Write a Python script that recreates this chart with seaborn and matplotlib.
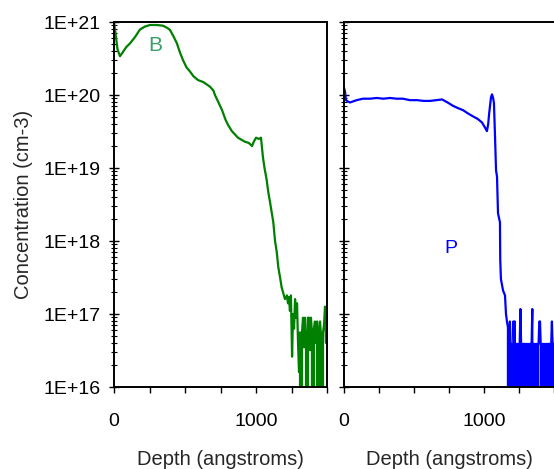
import pandas as pd
import seaborn as sns
import matplotlib.pyplot as plt
from matplotlib.ticker import LogLocator, NullFormatter

# boron profile (left panel)
b_depth = [0, 10, 25, 42, 60, 85, 113, 150, 183, 220, 254, 300, 345, 375, 394,
           420, 443, 465, 486, 510, 535, 560, 592, 630, 676, 700, 711, 740, 761,
           785, 803, 830, 873, 920, 950, 972, 985, 1000, 1020, 1035, 1049, 1060,
           1075, 1087, 1099, 1110, 1122, 1134, 1146, 1157, 1169, 1181,
           1190, 1204, 1218, 1225, 1232, 1239, 1246, 1254, 1261, 1268, 1275,
           1282, 1289, 1296, 1303, 1310, 1317, 1324, 1331, 1338, 1345, 1352,
           1359, 1366, 1373, 1380, 1387, 1394, 1401, 1408, 1415, 1423, 1430,
           1437, 1444, 1451, 1458, 1465, 1472, 1479, 1486, 1493, 1500]
b_conc = [1.0e21, 7.1e20, 4.2e20, 3.4e20, 3.8e20, 4.5e20, 5.1e20, 6.3e20, 7.9e20,
          8.7e20, 9.1e20, 9.1e20, 8.9e20, 8.3e20, 7.8e20, 6.3e20, 5.1e20, 3.8e20,
          3.0e20, 2.4e20, 2.1e20, 1.8e20, 1.6e20, 1.5e20, 1.3e20, 1.15e20, 1.0e20,
          7.6e19, 6.2e19, 4.6e19, 3.9e19, 3.2e19, 2.6e19, 2.3e19, 2.2e19, 2.0e19,
          2.3e19, 2.6e19, 2.5e19, 2.6e19, 1.4e19, 1.0e19,
          6.9e18, 4.6e18, 3.4e18, 2.5e18, 1.8e18, 1.0e18, 7.1e17, 4.4e17, 3.2e17,
          2.3e17,
          2.0e17, 1.6e17, 1.8e17, 1.4e17, 1.7e17, 1.1e17, 1.8e17, 2.6e16, 1.0e17,
          6.3e16, 1.6e17, 8.9e16, 1.4e17, 4.0e16, 1.6e16, 5.6e16, 0, 5.6e16,
          8.9e16, 3.5e16, 8.9e16, 5.0e16, 0, 8.9e16, 8.9e16, 3.2e16, 8.9e16,
          5.6e16, 0, 6.3e16, 7.9e16, 4.0e16, 7.9e16, 0, 6.3e16, 7.9e16, 5.0e16,
          0, 5.6e16, 7.1e16, 1.26e17, 4.0e16, 7.9e16]

# phosphorus profile (right panel)
p_depth = [0, 7, 14, 30, 43, 90, 136, 185, 235, 280, 329, 375, 421, 470, 521,
           570, 614, 660, 700, 740, 779, 815, 850, 885, 921, 955, 986, 1010,
           1021, 1030, 1036, 1043, 1050, 1057, 1064, 1071, 1079, 1086, 1093,
           1100, 1114, 1116, 1121, 1136, 1150, 1157, 1164, 1171,
           1180, 1185, 1190, 1195, 1200, 1205, 1210, 1215, 1220, 1225, 1230,
           1235, 1240, 1245, 1250, 1255, 1260, 1265, 1270, 1275, 1280, 1285,
           1290, 1295, 1300, 1305, 1310, 1315, 1320, 1325, 1330, 1335, 1340,
           1345, 1350, 1355, 1360, 1365, 1370, 1375, 1380, 1385, 1390, 1395,
           1400, 1405, 1410, 1415, 1420, 1425, 1430, 1435, 1440, 1445, 1450,
           1455, 1460, 1465, 1470, 1475, 1480, 1485, 1490, 1495, 1500]
p_conc = [1.26e20, 1.12e20, 8.5e19, 8.1e19, 7.9e19, 8.5e19, 8.9e19, 8.9e19,
          9.1e19, 8.9e19, 9.1e19, 8.9e19, 8.9e19, 8.5e19, 8.5e19, 8.3e19, 8.3e19,
          8.5e19, 8.7e19, 7.9e19, 7.1e19, 6.6e19, 6.2e19, 5.6e19, 5.1e19, 4.7e19,
          4.2e19, 3.5e19, 3.2e19, 4.0e19, 5.4e19, 7.1e19, 9.3e19, 1.02e20,
          9.3e19, 7.8e19, 2.6e19, 9.3e18, 7.6e18, 2.4e18, 1.8e18, 5.5e17, 3.0e17,
          2.1e17, 1.8e17, 1.0e17, 7.9e16, 6.6e16,
          0, 7.9e16, 3.9e16, 0, 3.9e16, 0, 7.9e16, 3.9e16, 7.9e16, 0, 3.9e16,
          0, 3.9e16, 0, 3.9e16, 3.9e16, 1.17e17, 3.9e16, 0, 3.9e16, 0, 3.9e16,
          3.9e16, 0, 3.9e16, 0, 3.9e16, 0, 3.9e16, 0, 3.9e16, 3.9e16, 3.9e16,
          1.17e17, 0, 3.9e16, 0, 3.9e16, 0, 3.9e16, 0, 3.9e16, 3.9e16, 7.9e16,
          7.9e16, 3.9e16, 0, 0, 3.9e16, 3.9e16, 0, 3.9e16, 0, 3.9e16, 0,
          3.9e16, 0, 3.9e16, 3.9e16, 0, 3.9e16, 7.9e16, 3.9e16, 0, 3.9e16]

x_ticks = [0, 250, 500, 750, 1000, 1250, 1500]
x_tick_labels = ['0', '', '', '', '1000', '', '']
y_ticks = [1e16, 1e17, 1e18, 1e19, 1e20, 1e21]
y_tick_labels = ['1E+16', '1E+17', '1E+18', '1E+19', '1E+20', '1E+21']

sns.set_theme(style="ticks")
plt.rcParams['font.family'] = ['Liberation Sans', 'DejaVu Sans']

b_df = pd.DataFrame({"depth": b_depth, "conc": b_conc})
p_df = pd.DataFrame({"depth": p_depth, "conc": p_conc})

fig = plt.figure(figsize=(5.54, 4.69), dpi=100)
ax1 = fig.add_axes([114 / 554, 82 / 469, 213 / 554, 365 / 469])
ax2 = fig.add_axes([344 / 554, 82 / 469, 210 / 554, 365 / 469])

for ax in (ax1, ax2):
    ax.set_yscale('log')

sns.lineplot(data=b_df, x="depth", y="conc", ax=ax1, color='#008000',
             linewidth=1.6, estimator=None, sort=False)
sns.lineplot(data=p_df, x="depth", y="conc", ax=ax2, color='#0000ff',
             linewidth=1.6, estimator=None, sort=False)

for ax in (ax1, ax2):
    ax.set_xlim(0, 1500)
    ax.set_ylim(1e16, 1e21)
    ax.set_xticks(x_ticks)
    ax.set_xticklabels(x_tick_labels)
    ax.set_yticks(y_ticks)
    ax.yaxis.set_minor_locator(LogLocator(base=10, subs=range(2, 10)))
    ax.yaxis.set_minor_formatter(NullFormatter())
    ax.tick_params(axis='x', direction='out', length=4, width=1,
                   labelsize=14, pad=15, colors='black')
    ax.tick_params(axis='y', which='major', direction='inout', length=7,
                   width=1, labelsize=14, pad=6, colors='black')
    ax.tick_params(axis='y', which='minor', direction='inout', length=4,
                   width=0.8, colors='black')
    for sp in ax.spines.values():
        sp.set_linewidth(1.4)
        sp.set_color('black')
    ax.set_xlabel("Depth (angstroms)", fontsize=14.5, labelpad=14)

ax1.set_yticklabels(y_tick_labels)
ax1.set_ylabel("Concentration (cm-3)", fontsize=14.5, labelpad=8)
ax2.set_yticklabels([])
ax2.set_ylabel("")
ax2.spines['right'].set_visible(False)

ax1.text(289, 4.8e20, "B", color='#3a9e6a', fontsize=15,
         ha='center', va='center')
ax2.text(764, 7.8e17, "P", color='#0000ff', fontsize=14,
         ha='center', va='center')

fig.savefig("out.png", dpi=100)
